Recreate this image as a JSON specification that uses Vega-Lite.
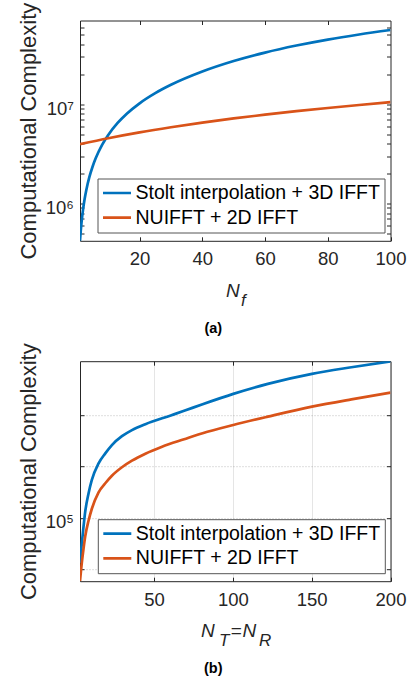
{
  "$schema": "https://vega.github.io/schema/vega-lite/v6.json",
  "background": "white",
  "autosize": {"type": "pad"},
  "padding": {"left": 16, "top": 1.5, "right": 8, "bottom": 5},
  "datasets": {
    "a": [
      {"N": 1, "C": 420000, "method": "Stolt interpolation + 3D IFFT"},
      {"N": 1.25, "C": 533500, "method": "Stolt interpolation + 3D IFFT"},
      {"N": 1.5, "C": 648600, "method": "Stolt interpolation + 3D IFFT"},
      {"N": 2, "C": 882400, "method": "Stolt interpolation + 3D IFFT"},
      {"N": 2.5, "C": 1120000, "method": "Stolt interpolation + 3D IFFT"},
      {"N": 3, "C": 1361000, "method": "Stolt interpolation + 3D IFFT"},
      {"N": 4, "C": 1850000, "method": "Stolt interpolation + 3D IFFT"},
      {"N": 5, "C": 2346000, "method": "Stolt interpolation + 3D IFFT"},
      {"N": 6, "C": 2849000, "method": "Stolt interpolation + 3D IFFT"},
      {"N": 8, "C": 3869000, "method": "Stolt interpolation + 3D IFFT"},
      {"N": 10, "C": 4905000, "method": "Stolt interpolation + 3D IFFT"},
      {"N": 13, "C": 6480000, "method": "Stolt interpolation + 3D IFFT"},
      {"N": 16, "C": 8077000, "method": "Stolt interpolation + 3D IFFT"},
      {"N": 20, "C": 10234000, "method": "Stolt interpolation + 3D IFFT"},
      {"N": 25, "C": 12960000, "method": "Stolt interpolation + 3D IFFT"},
      {"N": 30, "C": 15720000, "method": "Stolt interpolation + 3D IFFT"},
      {"N": 40, "C": 21400000, "method": "Stolt interpolation + 3D IFFT"},
      {"N": 50, "C": 27300000, "method": "Stolt interpolation + 3D IFFT"},
      {"N": 60, "C": 33240000, "method": "Stolt interpolation + 3D IFFT"},
      {"N": 70, "C": 39130000, "method": "Stolt interpolation + 3D IFFT"},
      {"N": 80, "C": 44960000, "method": "Stolt interpolation + 3D IFFT"},
      {"N": 90, "C": 50580000, "method": "Stolt interpolation + 3D IFFT"},
      {"N": 100, "C": 56100000, "method": "Stolt interpolation + 3D IFFT"},
      {"N": 1, "C": 3960000, "method": "NUIFFT + 2D IFFT"},
      {"N": 10, "C": 4550000, "method": "NUIFFT + 2D IFFT"},
      {"N": 20, "C": 5210000, "method": "NUIFFT + 2D IFFT"},
      {"N": 30, "C": 5870000, "method": "NUIFFT + 2D IFFT"},
      {"N": 40, "C": 6540000, "method": "NUIFFT + 2D IFFT"},
      {"N": 50, "C": 7200000, "method": "NUIFFT + 2D IFFT"},
      {"N": 60, "C": 7860000, "method": "NUIFFT + 2D IFFT"},
      {"N": 70, "C": 8520000, "method": "NUIFFT + 2D IFFT"},
      {"N": 80, "C": 9180000, "method": "NUIFFT + 2D IFFT"},
      {"N": 90, "C": 9840000, "method": "NUIFFT + 2D IFFT"},
      {"N": 100, "C": 10500000, "method": "NUIFFT + 2D IFFT"}
    ],
    "b": [
      {"N": 3, "C": 54700, "method": "Stolt interpolation + 3D IFFT"},
      {"N": 4.15, "C": 71000, "method": "Stolt interpolation + 3D IFFT"},
      {"N": 5.23, "C": 88900, "method": "Stolt interpolation + 3D IFFT"},
      {"N": 6.31, "C": 108900, "method": "Stolt interpolation + 3D IFFT"},
      {"N": 8.41, "C": 139000, "method": "Stolt interpolation + 3D IFFT"},
      {"N": 10.51, "C": 166700, "method": "Stolt interpolation + 3D IFFT"},
      {"N": 14.78, "C": 208400, "method": "Stolt interpolation + 3D IFFT"},
      {"N": 19.04, "C": 238300, "method": "Stolt interpolation + 3D IFFT"},
      {"N": 23.24, "C": 266700, "method": "Stolt interpolation + 3D IFFT"},
      {"N": 29.61, "C": 300400, "method": "Stolt interpolation + 3D IFFT"},
      {"N": 35.97, "C": 326100, "method": "Stolt interpolation + 3D IFFT"},
      {"N": 44.5, "C": 353200, "method": "Stolt interpolation + 3D IFFT"},
      {"N": 60.6, "C": 397200, "method": "Stolt interpolation + 3D IFFT"},
      {"N": 69.07, "C": 422700, "method": "Stolt interpolation + 3D IFFT"},
      {"N": 80.78, "C": 461800, "method": "Stolt interpolation + 3D IFFT"},
      {"N": 100.26, "C": 530900, "method": "Stolt interpolation + 3D IFFT"},
      {"N": 122.16, "C": 607300, "method": "Stolt interpolation + 3D IFFT"},
      {"N": 150.17, "C": 695000, "method": "Stolt interpolation + 3D IFFT"},
      {"N": 175.18, "C": 759400, "method": "Stolt interpolation + 3D IFFT"},
      {"N": 200, "C": 822400, "method": "Stolt interpolation + 3D IFFT"},
      {"N": 3, "C": 42700, "method": "NUIFFT + 2D IFFT"},
      {"N": 4.15, "C": 54700, "method": "NUIFFT + 2D IFFT"},
      {"N": 5.23, "C": 66100, "method": "NUIFFT + 2D IFFT"},
      {"N": 6.31, "C": 78200, "method": "NUIFFT + 2D IFFT"},
      {"N": 8.41, "C": 96300, "method": "NUIFFT + 2D IFFT"},
      {"N": 10.51, "C": 113200, "method": "NUIFFT + 2D IFFT"},
      {"N": 14.78, "C": 141300, "method": "NUIFFT + 2D IFFT"},
      {"N": 19.04, "C": 159500, "method": "NUIFFT + 2D IFFT"},
      {"N": 23.24, "C": 176500, "method": "NUIFFT + 2D IFFT"},
      {"N": 29.61, "C": 197800, "method": "NUIFFT + 2D IFFT"},
      {"N": 35.97, "C": 216100, "method": "NUIFFT + 2D IFFT"},
      {"N": 44.5, "C": 237400, "method": "NUIFFT + 2D IFFT"},
      {"N": 55.07, "C": 260800, "method": "NUIFFT + 2D IFFT"},
      {"N": 69.07, "C": 288300, "method": "NUIFFT + 2D IFFT"},
      {"N": 80.78, "C": 312700, "method": "NUIFFT + 2D IFFT"},
      {"N": 100.26, "C": 349300, "method": "NUIFFT + 2D IFFT"},
      {"N": 122.16, "C": 390700, "method": "NUIFFT + 2D IFFT"},
      {"N": 150.17, "C": 447100, "method": "NUIFFT + 2D IFFT"},
      {"N": 175.18, "C": 493200, "method": "NUIFFT + 2D IFFT"},
      {"N": 200, "C": 539500, "method": "NUIFFT + 2D IFFT"}
    ]
  },
  "bounds": "flush",
  "spacing": 119.7,
  "resolve": {
    "scale": {"x": "independent", "y": "independent", "color": "independent"},
    "legend": {"color": "independent"}
  },
  "vconcat": [
    {
      "width": 310.5,
      "height": 220.3,
      "data": {"name": "a"},
      "title": {"text": "(a)", "orient": "bottom", "anchor": "middle", "dx": -22, "offset": 14, "fontSize": 14.5, "fontWeight": "bold", "font": "Liberation Sans", "color": "#000000"},
      "layer": [
        {
          "mark": {"type": "line", "strokeWidth": 2.7, "interpolate": "monotone", "clip": true},
          "encoding": {
            "x": {"field": "N", "type": "quantitative",
              "scale": {"domain": [1, 100], "nice": false, "zero": false},
              "axis": {"orient": "bottom", "values": [20, 40, 60, 80, 100], "title": "N", "titleFontStyle": "italic", "titleX": 145.5, "titleY": 55.2, "titleAlign": "left", "titleBaseline": "alphabetic", "titleAngle": 0}},
            "y": {"field": "C", "type": "quantitative",
              "scale": {"type": "log", "domain": [420000, 70000000], "nice": false},
              "axis": {"orient": "left", "values": [500000, 600000, 700000, 800000, 900000, 1000000, 2000000, 3000000, 4000000, 5000000, 6000000, 7000000, 8000000, 9000000, 10000000, 20000000, 30000000, 40000000, 50000000, 60000000],
                "labelExpr": "datum.value == 1000000 ? '10⁶' : (datum.value == 10000000 ? '10⁷' : '')",
                "title": "Computational Complexity"}},
            "color": {"field": "method", "type": "nominal",
              "scale": {"domain": ["Stolt interpolation + 3D IFFT", "NUIFFT + 2D IFFT"], "range": ["#0072BD", "#D95319"]},
              "legend": {"orient": "none", "legendX": 17.5, "legendY": 158, "title": null}}
          }
        },
        {
          "mark": {"type": "line", "opacity": 0},
          "encoding": {
            "x": {"field": "N", "type": "quantitative",
              "scale": {"domain": [1, 100], "nice": false, "zero": false},
              "axis": {"orient": "top", "values": [20, 40, 60, 80], "labels": false, "title": "f", "titleFontSize": 17, "titleFontStyle": "italic", "titleX": 160.5, "titleY": 284.5, "titleAlign": "left", "titleBaseline": "alphabetic", "titleAngle": 0}},
            "y": {"field": "C", "type": "quantitative",
              "scale": {"type": "log", "domain": [420000, 70000000], "nice": false},
              "axis": {"orient": "right", "values": [500000, 600000, 700000, 800000, 900000, 1000000, 2000000, 3000000, 4000000, 5000000, 6000000, 7000000, 8000000, 9000000, 10000000, 20000000, 30000000, 40000000, 50000000, 60000000], "labels": false, "title": null}},
            "detail": {"field": "method"}
          }
        }
      ],
      "resolve": {"axis": {"x": "independent", "y": "independent"}}
    },
    {
      "width": 310.5,
      "height": 220,
      "data": {"name": "b"},
      "title": {"text": "(b)", "orient": "bottom", "anchor": "middle", "dx": -22, "offset": 14, "fontSize": 14.5, "fontWeight": "bold", "font": "Liberation Sans", "color": "#000000"},
      "layer": [
        {
          "mark": {"type": "line", "strokeWidth": 2.7, "interpolate": "monotone", "clip": true},
          "encoding": {
            "x": {"field": "N", "type": "quantitative",
              "scale": {"domain": [3, 200], "nice": false, "zero": false},
              "axis": {"orient": "bottom", "values": [50, 100, 150, 200], "grid": true, "gridColor": "#262626", "gridOpacity": 0.12, "title": "N", "titleFontStyle": "italic", "titleX": 120.5, "titleY": 55.5, "titleAlign": "left", "titleBaseline": "alphabetic", "titleAngle": 0}},
            "y": {"field": "C", "type": "quantitative",
              "scale": {"type": "log", "domain": [42700, 824000], "nice": false},
              "axis": {"orient": "left", "values": [50000, 100000, 200000, 400000], "grid": true, "gridColor": "#262626", "gridOpacity": 0.3, "gridDash": [1, 2],
                "labelExpr": "datum.value == 100000 ? '10⁵' : ''",
                "title": "Computational Complexity"}},
            "color": {"field": "method", "type": "nominal",
              "scale": {"domain": ["Stolt interpolation + 3D IFFT", "NUIFFT + 2D IFFT"], "range": ["#0072BD", "#D95319"]},
              "legend": {"orient": "none", "legendX": 17.8, "legendY": 158, "title": null}}
          }
        },
        {
          "mark": {"type": "line", "opacity": 0},
          "encoding": {
            "x": {"field": "N", "type": "quantitative",
              "scale": {"domain": [3, 200], "nice": false, "zero": false},
              "axis": {"orient": "top", "values": [50, 100, 150], "labels": false, "title": "T", "titleFontSize": 17, "titleFontStyle": "italic", "titleX": 138.5, "titleY": 283.8, "titleAlign": "left", "titleBaseline": "alphabetic", "titleAngle": 0}},
            "y": {"field": "C", "type": "quantitative",
              "scale": {"type": "log", "domain": [42700, 824000], "nice": false},
              "axis": {"orient": "right", "values": [50000, 100000, 200000, 400000], "labels": false, "title": "R", "titleFontSize": 17, "titleFontStyle": "italic", "titleX": -132, "titleY": 283.8, "titleAlign": "left", "titleBaseline": "alphabetic", "titleAngle": 0}},
            "detail": {"field": "method"}
          }
        },
        {
          "mark": {"type": "line", "opacity": 0},
          "encoding": {
            "x": {"field": "N", "type": "quantitative",
              "scale": {"domain": [3, 200], "nice": false, "zero": false},
              "axis": {"orient": "bottom", "ticks": false, "labels": false, "grid": false, "title": "=", "titleX": 150.3, "titleY": 55.5, "titleAlign": "left", "titleBaseline": "alphabetic", "titleAngle": 0}},
            "y": {"field": "C", "type": "quantitative",
              "scale": {"type": "log", "domain": [42700, 824000], "nice": false},
              "axis": {"orient": "left", "ticks": false, "labels": false, "grid": false, "title": "N", "titleFontSize": 19, "titleFontStyle": "italic", "titleX": 162, "titleY": 275.5, "titleAlign": "left", "titleBaseline": "alphabetic", "titleAngle": 0}},
            "detail": {"field": "method"}
          }
        }
      ],
      "resolve": {"axis": {"x": "independent", "y": "independent"}}
    }
  ],
  "config": {
    "view": {"stroke": "#262626", "strokeWidth": 1},
    "axis": {
      "domain": false,
      "grid": false,
      "tickColor": "#262626",
      "tickSize": -4,
      "tickWidth": 1,
      "labelFont": "Liberation Sans",
      "labelFontSize": 18.5,
      "labelColor": "#262626",
      "labelFlush": false,
      "labelOverlap": false,
      "labelBound": false,
      "titleFont": "Liberation Sans",
      "titleFontSize": 19,
      "titleFontWeight": "normal",
      "titleColor": "#262626"
    },
    "axisX": {"labelPadding": 12.8},
    "axisY": {"labelPadding": 10.5, "labelOffset": 4, "titleFontSize": 22, "titlePadding": 5},
    "legend": {
      "fillColor": "white",
      "strokeColor": "#555555",
      "strokeWidth": 1,
      "padding": 4,
      "cornerRadius": 0,
      "symbolType": "stroke",
      "symbolSize": 784,
      "symbolStrokeWidth": 2.7,
      "labelFont": "Liberation Sans",
      "labelFontSize": 19.5,
      "labelColor": "#000000",
      "labelLimit": 400,
      "labelOffset": 3,
      "clipHeight": 21,
      "rowPadding": 3.6
    }
  }
}
